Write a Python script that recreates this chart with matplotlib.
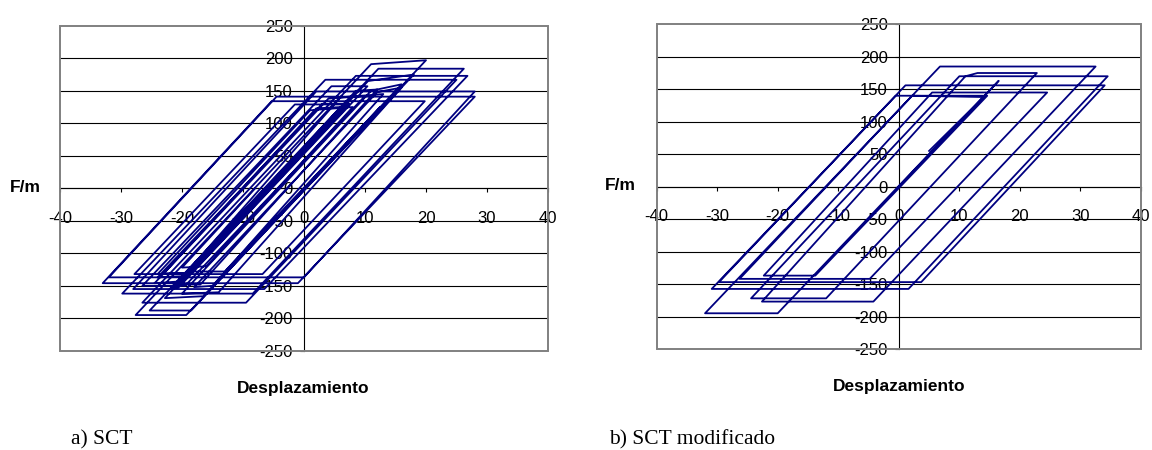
import matplotlib
matplotlib.use('Agg')
import matplotlib.pyplot as plt
from matplotlib.patches import Rectangle

## DATA (turning points of the hysteresis loops)
sct_x = [0, 12.5, -13, -19, 7, -19.5, -24, 3, 7.4, -20, -24.5, 4, 10, -19.5, -26.5,
         4.5, 10.4, -20.5, -22, 8.5, 12, -17, -21, 6, 13, -15, -18, 12, 16, -14, -20, 11,
         16, -16.5, -22.8, 10.5, 18, -19.3, -27.6, 11, 20,
         -18.5, -25.3, 12.2, 26.2, -8.4, -29.8, 3.5, 25, -9.5, -26.5, 8.5, 26.8, -6.5,
         -28, 2, 28, 0, -32, -4.5, 28, -1, -33, -5.3, 19.8, -6.8, -27.8, -1.5, 7.4,
         -18.5, -23, 2, 6, -19, -24, 1, 8, -16, -20, -8]
sct_y = [0, 125, -128, -128, 127, -135, -137, 130, 130, -143, -146, 138, 142, -150, -150,
         157, 157, -152, -155, 150, 152, -148, -148, 140, 145, -150, -152, 148, 155, -160, -162, 150,
         160, -166, -169, 165, 175, -195, -195, 191, 197,
         -188, -188, 184, 184, -162, -162, 167, 167, -176, -176, 173, 173, -155,
         -155, 149, 149, -137, -137, 141, 141, -146, -146, 134, 134, -132, -132, 129, 129,
         -131, -131, 123, 125, -130, -132, 120, 125, -120, -122, 0]

mod_x = [0, 16.5, -20, -32, 6.8, 32.5, -4.2, -22.6, 11, 13, 22.8, -12, -24.4, 10, 34.5,
         1.6, -30.9, 1.1, 34, 3.7, -29.7, -0.5, 14.6, -13.8, -22.3, 5.5, 24.5, -4.8,
         -26.3, 2.2, 14, 5]
mod_y = [0, 163, -195, -195, 185, 185, -177, -177, 170, 175, 175, -172, -172, 170, 170,
         -157.5, -157.5, 156, 156, -147, -147, 140, 140, -137, -137, 145, 145, -142,
         -142, 140, 138, 55]

x_ticks = [-40, -30, -20, -10, 0, 10, 20, 30, 40]
y_ticks = [-250, -200, -150, -100, -50, 0, 50, 100, 150, 200, 250]

W, H = 1152, 450


def draw_panel(fig, box, xs, ys, ylab_pos, xlab_pos, caption, cap_pos):
    left, top, right, bottom = box
    ax = fig.add_axes([left / W, 1 - bottom / H, (right - left) / W, (bottom - top) / H])
    ax.set_xlim(-40, 40)
    ax.set_ylim(-250, 250)
    for v in y_ticks[1:-1]:
        ax.axhline(v, color='black', lw=0.8, zorder=1)
    ax.plot(xs, ys, color='#000080', lw=1.3, zorder=3)

    ax.spines['left'].set_position(('data', 0))
    ax.spines['bottom'].set_position(('data', 0))
    ax.spines['top'].set_visible(False)
    ax.spines['right'].set_visible(False)
    for s in ['left', 'bottom']:
        ax.spines[s].set_color('black')
        ax.spines[s].set_linewidth(0.8)
        ax.spines[s].set_zorder(2)
    ax.add_patch(Rectangle((0, 0), 1, 1, transform=ax.transAxes, fill=False,
                           ec='#808080', lw=1.4, clip_on=False, zorder=4))

    ax.set_xticks(x_ticks)
    ax.set_yticks(y_ticks)
    ax.set_xticklabels([str(v) for v in x_ticks])
    ax.set_yticklabels([str(v) for v in y_ticks])
    ax.tick_params(axis='x', direction='out', length=3, width=0.8, pad=13, labelsize=12)
    ax.tick_params(axis='y', direction='out', length=3, width=0.8, pad=5, labelsize=12)
    for lab in ax.get_xticklabels() + ax.get_yticklabels():
        lab.set_fontfamily('Liberation Sans')

    fig.text(ylab_pos[0] / W, 1 - ylab_pos[1] / H, 'F/m', ha='center', va='center',
             fontsize=12.5, fontweight='bold', family='Liberation Sans')
    fig.text(xlab_pos[0] / W, 1 - xlab_pos[1] / H, 'Desplazamiento', ha='center', va='center',
             fontsize=12.5, fontweight='bold', family='Liberation Sans')
    fig.text(cap_pos[0] / W, 1 - cap_pos[1] / H, caption, ha='left', va='center',
             fontsize=15.5, family='Liberation Serif')
    return ax


fig = plt.figure(figsize=(W / 100, H / 100), dpi=100)
draw_panel(fig, (60, 25.8, 548, 350.8), sct_x, sct_y, (25, 188), (303, 388), 'a) SCT', (71, 440))
draw_panel(fig, (656.6, 24.3, 1141, 349), mod_x, mod_y, (620, 186), (899, 386),
           'b) SCT modificado', (609, 440))
fig.savefig('out.png', dpi=100)
print("Done")
